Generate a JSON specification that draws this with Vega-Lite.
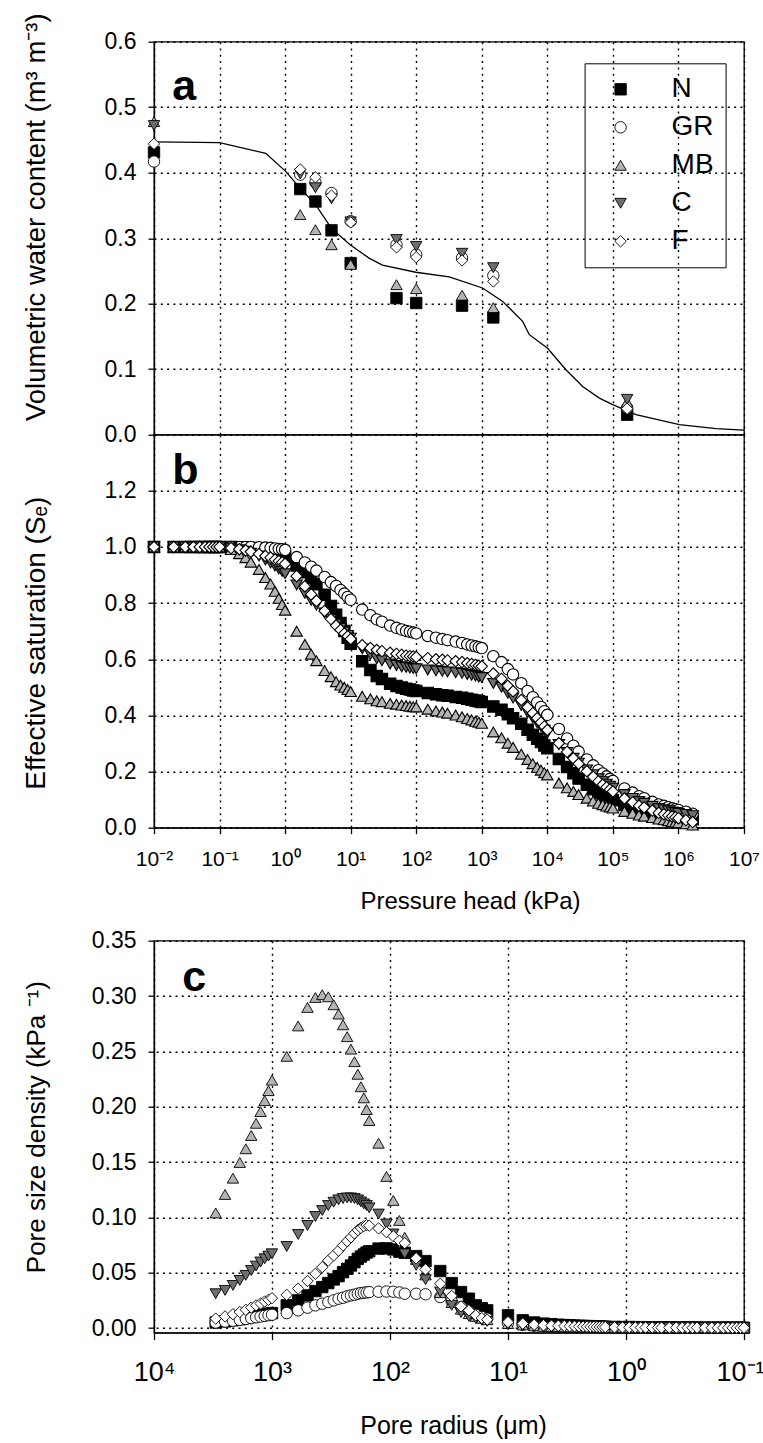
{
  "$schema": "https://vega.github.io/schema/vega-lite/v6.json",
  "padding": {"left": 21, "top": 11.7, "right": 5, "bottom": 5},
  "config": {
    "font": "Liberation Sans",
    "view": {"stroke": "#000", "strokeWidth": 1.3},
    "axis": {
      "domainColor": "#000", "domainWidth": 1.3,
      "tickColor": "#000", "tickWidth": 1.3, "tickSize": 6,
      "labelColor": "#000", "labelFont": "Liberation Sans", "labelFontSize": 23, "labelPadding": 12,
      "labelFlush": false, "labelOverlap": false,
      "titleColor": "#000", "titleFont": "Liberation Sans", "titleFontWeight": "normal",
      "gridColor": "#000", "gridDash": [2, 4.3], "gridWidth": 1.4, "gridOpacity": 1
    }
  },
  "resolve": {"scale": {"shape": "independent", "fill": "independent", "stroke": "independent"}, "legend": {"shape": "independent", "fill": "independent", "stroke": "independent"}},
  "spacing": 14,
  "vconcat": [
    {
      "spacing": 0,
      "bounds": "flush",
      "resolve": {"scale": {"shape": "independent", "fill": "independent", "stroke": "independent"}, "legend": {"shape": "independent", "fill": "independent", "stroke": "independent"}},
      "vconcat": [
        {
          "width": 590, "height": 393,
          "encoding": {
            "x": {"field": "h", "type": "quantitative", "scale": {"type": "log", "domain": [0.01, 10000000], "nice": false},
                  "axis": {"values": [0.01, 0.1, 1, 10, 100, 1000, 10000, 100000, 1000000, 10000000], "labels": false, "ticks": false, "domain": false, "grid": true, "title": null}},
            "y": {"field": "value", "type": "quantitative", "scale": {"domain": [0, 0.6], "nice": false, "zero": false},
                  "axis": {"values": [0, 0.1, 0.2, 0.3, 0.4, 0.5, 0.6], "format": ".1f", "grid": true,
                           "title": "Volumetric water content (m³ m⁻³)", "titleFontSize": 27.5, "titleX": -118, "titleY": 175, "titleBaseline": "middle"}}
          },
          "layer": [
            {
              "data": {"values": [
                {"h": 0.01, "value": 0.447}, {"h": 0.1, "value": 0.446}, {"h": 0.506, "value": 0.4295},
                {"h": 1.02, "value": 0.402}, {"h": 1.69, "value": 0.3765}, {"h": 2.93, "value": 0.351},
                {"h": 5.09, "value": 0.315}, {"h": 9.8, "value": 0.29}, {"h": 19.1, "value": 0.2696},
                {"h": 30.5, "value": 0.259}, {"h": 98.6, "value": 0.248}, {"h": 319, "value": 0.241},
                {"h": 1028, "value": 0.224}, {"h": 2080, "value": 0.2035}, {"h": 4200, "value": 0.173},
                {"h": 5310, "value": 0.1527}, {"h": 10100, "value": 0.132}, {"h": 19200, "value": 0.0992},
                {"h": 34600, "value": 0.0737}, {"h": 62200, "value": 0.0559}, {"h": 99300, "value": 0.0458},
                {"h": 225000, "value": 0.0305}, {"h": 1035000, "value": 0.0153}, {"h": 3750000, "value": 0.0092},
                {"h": 10000000, "value": 0.007}
              ]},
              "mark": {"type": "line", "color": "#000", "strokeWidth": 1.3}
            },
            {
              "data": {"values": [
                {"h": 0.01, "N": 0.431, "GR": 0.417, "MB": 0.478, "C": 0.472, "F": 0.444},
                {"h": 1.7, "N": 0.375, "GR": 0.397, "MB": 0.336, "C": 0.398, "F": 0.405},
                {"h": 2.9, "N": 0.356, "GR": 0.385, "MB": 0.313, "C": 0.377, "F": 0.393},
                {"h": 5.1, "N": 0.312, "GR": 0.369, "MB": 0.29, "C": 0.36, "F": 0.365},
                {"h": 10, "N": 0.262, "GR": 0.326, "MB": 0.26, "C": 0.325, "F": 0.324},
                {"h": 50, "N": 0.2085, "GR": 0.29, "MB": 0.229, "C": 0.298, "F": 0.286},
                {"h": 100, "N": 0.201, "GR": 0.275, "MB": 0.223, "C": 0.2875, "F": 0.271},
                {"h": 500, "N": 0.197, "GR": 0.27, "MB": 0.213, "C": 0.277, "F": 0.266},
                {"h": 1500, "N": 0.179, "GR": 0.243, "MB": 0.194, "C": 0.255, "F": 0.234},
                {"h": 165000, "N": 0.0305, "GR": 0.041, "MB": 0.05, "C": 0.054, "F": 0.0397}
              ]},
              "transform": [
                {"fold": ["N", "GR", "MB", "C", "F"], "as": ["series", "value"]},
                {"lookup": "series", "from": {"data": {"values": [{"series": "N", "ord": 1}, {"series": "GR", "ord": 2}, {"series": "MB", "ord": 3}, {"series": "C", "ord": 4}, {"series": "F", "ord": 5}]}, "key": "series", "fields": ["ord"]}}
              ],
              "mark": {"type": "point", "filled": true, "strokeWidth": 0.9, "size": 130, "opacity": 1},
              "encoding": {
                "shape": {"field": "series", "type": "nominal",
                          "scale": {"domain": ["N", "GR", "MB", "C", "F"], "range": ["square", "circle", "triangle-up", "triangle-down", "diamond"]},
                          "legend": {"orient": "none", "legendX": 430.6, "legendY": 21.6, "title": null, "direction": "vertical", "padding": 12, "rowPadding": 10, "symbolOffset": 10, "labelOffset": 37, "labelFontSize": 28, "labelFont": "Liberation Sans", "labelColor": "#000", "symbolSize": 130, "strokeColor": "#000", "symbolStrokeWidth": 0.9}},
                "fill": {"field": "series", "type": "nominal",
                         "scale": {"domain": ["N", "GR", "MB", "C", "F"], "range": ["#000000", "#ffffff", "#b4b4b4", "#6e6e6e", "#ffffff"]},
                         "legend": {"orient": "none", "legendX": 430.6, "legendY": 21.6, "title": null, "direction": "vertical", "padding": 12, "rowPadding": 10, "symbolOffset": 10, "labelOffset": 37, "labelFontSize": 28, "labelFont": "Liberation Sans", "labelColor": "#000", "symbolSize": 130, "strokeColor": "#000", "symbolStrokeWidth": 0.9}},
                "stroke": {"field": "series", "type": "nominal",
                           "scale": {"domain": ["N", "GR", "MB", "C", "F"], "range": ["#000000", "#000000", "#000000", "#000000", "#000000"]},
                           "legend": {"orient": "none", "legendX": 430.6, "legendY": 21.6, "title": null, "direction": "vertical", "padding": 12, "rowPadding": 10, "symbolOffset": 10, "labelOffset": 37, "labelFontSize": 28, "labelFont": "Liberation Sans", "labelColor": "#000", "symbolSize": 130, "strokeColor": "#000", "symbolStrokeWidth": 0.9}},
                "order": {"field": "ord", "type": "quantitative"}
              }
            },
            {
              "data": {"values": [{"label": "a", "h": 0.019, "value": 0.511}]},
              "mark": {"type": "text", "font": "Liberation Sans", "fontWeight": "bold", "fontSize": 43, "align": "left", "baseline": "alphabetic", "fill": "#000"},
              "encoding": {"text": {"field": "label", "type": "nominal"}}
            }
          ]
        },
        {
          "width": 590, "height": 393,
          "encoding": {
            "x": {"field": "h", "type": "quantitative", "scale": {"type": "log", "domain": [0.01, 10000000], "nice": false},
                  "axis": {"values": [0.01, 0.1, 1, 10, 100, 1000, 10000, 100000, 1000000, 10000000], "grid": true,
                           "labelExpr": "'10' + ['⁻²','⁻¹','⁰','¹','²','³','⁴','⁵','⁶','⁷'][round(log(datum.value)/LN10)+2]",
                           "labelFontSize": 21, "labelPadding": 15,
                           "title": "Pressure head (kPa)", "titleFontSize": 24, "titleX": 316, "titleY": 81, "titleBaseline": "alphabetic"}},
            "y": {"field": "value", "type": "quantitative", "scale": {"domain": [0, 1.4], "nice": false, "zero": false},
                  "axis": {"values": [0, 0.2, 0.4, 0.6, 0.8, 1.0, 1.2], "format": ".1f", "grid": true,
                           "title": "Effective saturation (Sₑ)", "titleFontSize": 28, "titleX": -118, "titleY": 208, "titleBaseline": "middle"}}
          },
          "layer": [
            {
              "data": {"values": [
                {"h": 0.01, "N": 1, "GR": 1, "MB": 1, "C": 1, "F": 1},
                {"h": 0.02, "N": 1, "GR": 1, "MB": 1, "C": 1, "F": 1},
                {"h": 0.03, "N": 1, "GR": 1, "MB": 1, "C": 1, "F": 1},
                {"h": 0.04, "N": 1, "GR": 1, "MB": 1, "C": 1, "F": 1},
                {"h": 0.05, "N": 1, "GR": 1, "MB": 1, "C": 1, "F": 1},
                {"h": 0.06, "N": 1, "GR": 1, "MB": 1, "C": 1, "F": 1},
                {"h": 0.07, "N": 1, "GR": 1, "MB": 1, "C": 1, "F": 1},
                {"h": 0.08, "N": 1, "GR": 1, "MB": 1, "C": 1, "F": 1},
                {"h": 0.09, "N": 1, "GR": 1, "MB": 1, "C": 1, "F": 1},
                {"h": 0.1, "N": 1, "GR": 1, "MB": 1, "C": 1, "F": 1},
                {"h": 0.15, "N": 1, "GR": 1, "MB": 0.991, "C": 0.996, "F": 0.996},
                {"h": 0.2, "N": 0.999, "GR": 1, "MB": 0.976, "C": 0.99, "F": 0.992},
                {"h": 0.25, "N": 0.998, "GR": 1, "MB": 0.962, "C": 0.985, "F": 0.988},
                {"h": 0.3, "N": 0.996, "GR": 1, "MB": 0.946, "C": 0.978, "F": 0.983},
                {"h": 0.4, "N": 0.993, "GR": 0.999, "MB": 0.92, "C": 0.968, "F": 0.975},
                {"h": 0.5, "N": 0.988, "GR": 0.998, "MB": 0.891, "C": 0.954, "F": 0.968},
                {"h": 0.6, "N": 0.984, "GR": 0.997, "MB": 0.868, "C": 0.943, "F": 0.962},
                {"h": 0.7, "N": 0.979, "GR": 0.995, "MB": 0.842, "C": 0.932, "F": 0.955},
                {"h": 0.8, "N": 0.974, "GR": 0.993, "MB": 0.817, "C": 0.922, "F": 0.95},
                {"h": 0.9, "N": 0.969, "GR": 0.992, "MB": 0.795, "C": 0.913, "F": 0.945},
                {"h": 1, "N": 0.965, "GR": 0.99, "MB": 0.775, "C": 0.905, "F": 0.94},
                {"h": 1.5, "N": 0.934, "GR": 0.964, "MB": 0.7, "C": 0.865, "F": 0.896},
                {"h": 2, "N": 0.91, "GR": 0.945, "MB": 0.653, "C": 0.835, "F": 0.86},
                {"h": 2.5, "N": 0.89, "GR": 0.93, "MB": 0.618, "C": 0.81, "F": 0.831},
                {"h": 3, "N": 0.867, "GR": 0.916, "MB": 0.595, "C": 0.793, "F": 0.808},
                {"h": 4, "N": 0.83, "GR": 0.893, "MB": 0.56, "C": 0.765, "F": 0.772},
                {"h": 5, "N": 0.79, "GR": 0.875, "MB": 0.538, "C": 0.743, "F": 0.743},
                {"h": 6, "N": 0.759, "GR": 0.861, "MB": 0.52, "C": 0.725, "F": 0.72},
                {"h": 7, "N": 0.729, "GR": 0.847, "MB": 0.508, "C": 0.71, "F": 0.705},
                {"h": 8, "N": 0.701, "GR": 0.834, "MB": 0.5, "C": 0.697, "F": 0.692},
                {"h": 9, "N": 0.677, "GR": 0.822, "MB": 0.492, "C": 0.685, "F": 0.682},
                {"h": 10, "N": 0.655, "GR": 0.812, "MB": 0.485, "C": 0.675, "F": 0.672},
                {"h": 15, "N": 0.593, "GR": 0.777, "MB": 0.468, "C": 0.637, "F": 0.65},
                {"h": 20, "N": 0.562, "GR": 0.757, "MB": 0.459, "C": 0.617, "F": 0.64},
                {"h": 25, "N": 0.54, "GR": 0.742, "MB": 0.452, "C": 0.602, "F": 0.633},
                {"h": 30, "N": 0.53, "GR": 0.734, "MB": 0.449, "C": 0.595, "F": 0.629},
                {"h": 40, "N": 0.513, "GR": 0.72, "MB": 0.443, "C": 0.583, "F": 0.623},
                {"h": 50, "N": 0.505, "GR": 0.712, "MB": 0.44, "C": 0.578, "F": 0.619},
                {"h": 60, "N": 0.499, "GR": 0.706, "MB": 0.437, "C": 0.573, "F": 0.616},
                {"h": 70, "N": 0.495, "GR": 0.701, "MB": 0.435, "C": 0.571, "F": 0.613},
                {"h": 80, "N": 0.492, "GR": 0.698, "MB": 0.433, "C": 0.569, "F": 0.611},
                {"h": 90, "N": 0.489, "GR": 0.695, "MB": 0.431, "C": 0.567, "F": 0.61},
                {"h": 100, "N": 0.487, "GR": 0.692, "MB": 0.43, "C": 0.566, "F": 0.608},
                {"h": 150, "N": 0.48, "GR": 0.683, "MB": 0.422, "C": 0.562, "F": 0.604},
                {"h": 200, "N": 0.475, "GR": 0.677, "MB": 0.416, "C": 0.559, "F": 0.6},
                {"h": 250, "N": 0.472, "GR": 0.672, "MB": 0.412, "C": 0.557, "F": 0.598},
                {"h": 300, "N": 0.47, "GR": 0.668, "MB": 0.408, "C": 0.555, "F": 0.596},
                {"h": 400, "N": 0.466, "GR": 0.663, "MB": 0.401, "C": 0.552, "F": 0.593},
                {"h": 500, "N": 0.463, "GR": 0.658, "MB": 0.395, "C": 0.55, "F": 0.59},
                {"h": 600, "N": 0.459, "GR": 0.653, "MB": 0.389, "C": 0.546, "F": 0.586},
                {"h": 700, "N": 0.456, "GR": 0.649, "MB": 0.384, "C": 0.543, "F": 0.583},
                {"h": 800, "N": 0.453, "GR": 0.646, "MB": 0.379, "C": 0.54, "F": 0.58},
                {"h": 900, "N": 0.45, "GR": 0.643, "MB": 0.376, "C": 0.537, "F": 0.577},
                {"h": 1000, "N": 0.448, "GR": 0.64, "MB": 0.372, "C": 0.535, "F": 0.575},
                {"h": 1500, "N": 0.432, "GR": 0.611, "MB": 0.341, "C": 0.514, "F": 0.549},
                {"h": 2000, "N": 0.42, "GR": 0.59, "MB": 0.32, "C": 0.5, "F": 0.53},
                {"h": 2500, "N": 0.404, "GR": 0.565, "MB": 0.301, "C": 0.479, "F": 0.505},
                {"h": 3000, "N": 0.39, "GR": 0.546, "MB": 0.286, "C": 0.462, "F": 0.486},
                {"h": 4000, "N": 0.37, "GR": 0.515, "MB": 0.262, "C": 0.435, "F": 0.455},
                {"h": 5000, "N": 0.349, "GR": 0.487, "MB": 0.243, "C": 0.41, "F": 0.429},
                {"h": 6000, "N": 0.331, "GR": 0.465, "MB": 0.228, "C": 0.391, "F": 0.408},
                {"h": 7000, "N": 0.317, "GR": 0.446, "MB": 0.215, "C": 0.374, "F": 0.39},
                {"h": 8000, "N": 0.305, "GR": 0.43, "MB": 0.205, "C": 0.36, "F": 0.375},
                {"h": 9000, "N": 0.293, "GR": 0.415, "MB": 0.196, "C": 0.347, "F": 0.361},
                {"h": 10000, "N": 0.283, "GR": 0.402, "MB": 0.188, "C": 0.337, "F": 0.348},
                {"h": 15000, "N": 0.245, "GR": 0.352, "MB": 0.159, "C": 0.296, "F": 0.301},
                {"h": 20000, "N": 0.216, "GR": 0.318, "MB": 0.142, "C": 0.268, "F": 0.27},
                {"h": 25000, "N": 0.194, "GR": 0.292, "MB": 0.129, "C": 0.247, "F": 0.247},
                {"h": 30000, "N": 0.175, "GR": 0.271, "MB": 0.118, "C": 0.23, "F": 0.228},
                {"h": 40000, "N": 0.153, "GR": 0.243, "MB": 0.105, "C": 0.206, "F": 0.201},
                {"h": 50000, "N": 0.137, "GR": 0.222, "MB": 0.095, "C": 0.189, "F": 0.181},
                {"h": 60000, "N": 0.124, "GR": 0.205, "MB": 0.087, "C": 0.174, "F": 0.165},
                {"h": 70000, "N": 0.115, "GR": 0.193, "MB": 0.082, "C": 0.164, "F": 0.153},
                {"h": 80000, "N": 0.109, "GR": 0.183, "MB": 0.077, "C": 0.155, "F": 0.144},
                {"h": 90000, "N": 0.103, "GR": 0.174, "MB": 0.074, "C": 0.148, "F": 0.136},
                {"h": 100000, "N": 0.098, "GR": 0.167, "MB": 0.07, "C": 0.141, "F": 0.129},
                {"h": 150000, "N": 0.081, "GR": 0.14, "MB": 0.058, "C": 0.118, "F": 0.104},
                {"h": 200000, "N": 0.071, "GR": 0.125, "MB": 0.051, "C": 0.104, "F": 0.09},
                {"h": 250000, "N": 0.063, "GR": 0.112, "MB": 0.045, "C": 0.093, "F": 0.078},
                {"h": 300000, "N": 0.059, "GR": 0.105, "MB": 0.041, "C": 0.087, "F": 0.072},
                {"h": 400000, "N": 0.053, "GR": 0.092, "MB": 0.036, "C": 0.076, "F": 0.061},
                {"h": 500000, "N": 0.048, "GR": 0.083, "MB": 0.031, "C": 0.068, "F": 0.053},
                {"h": 600000, "N": 0.045, "GR": 0.078, "MB": 0.028, "C": 0.064, "F": 0.048},
                {"h": 700000, "N": 0.043, "GR": 0.073, "MB": 0.025, "C": 0.06, "F": 0.044},
                {"h": 800000, "N": 0.041, "GR": 0.069, "MB": 0.022, "C": 0.056, "F": 0.04},
                {"h": 900000, "N": 0.039, "GR": 0.066, "MB": 0.02, "C": 0.054, "F": 0.037},
                {"h": 1000000, "N": 0.037, "GR": 0.063, "MB": 0.018, "C": 0.051, "F": 0.034},
                {"h": 1300000, "N": 0.034, "GR": 0.057, "MB": 0.014, "C": 0.047, "F": 0.027},
                {"h": 1650000, "N": 0.03, "GR": 0.05, "MB": 0.0095, "C": 0.043, "F": 0.02}
              ]},
              "transform": [
                {"fold": ["N", "GR", "MB", "C", "F"], "as": ["series", "value"]},
                {"lookup": "series", "from": {"data": {"values": [{"series": "N", "ord": 1}, {"series": "GR", "ord": 2}, {"series": "MB", "ord": 3}, {"series": "C", "ord": 4}, {"series": "F", "ord": 5}]}, "key": "series", "fields": ["ord"]}}
              ],
              "mark": {"type": "point", "filled": true, "stroke": "#000", "strokeWidth": 1.1, "size": 130, "opacity": 1},
              "encoding": {
                "shape": {"field": "series", "type": "nominal", "legend": null,
                          "scale": {"domain": ["N", "GR", "MB", "C", "F"], "range": ["square", "circle", "triangle-up", "triangle-down", "diamond"]}},
                "fill": {"field": "series", "type": "nominal", "legend": null,
                         "scale": {"domain": ["N", "GR", "MB", "C", "F"], "range": ["#000000", "#ffffff", "#b4b4b4", "#6e6e6e", "#ffffff"]}},
                "order": {"field": "ord", "type": "quantitative"}
              }
            },
            {
              "data": {"values": [{"label": "b", "h": 0.019, "value": 1.224}]},
              "mark": {"type": "text", "font": "Liberation Sans", "fontWeight": "bold", "fontSize": 43, "align": "left", "baseline": "alphabetic", "fill": "#000"},
              "encoding": {"text": {"field": "label", "type": "nominal"}}
            }
          ]
        }
      ]
    },
    {
      "width": 590, "height": 392,
      "encoding": {
        "x": {"field": "r", "type": "quantitative", "scale": {"type": "log", "domain": [0.1, 10000], "reverse": true, "nice": false},
              "axis": {"values": [10000, 1000, 100, 10, 1, 0.1], "grid": true, "tickSize": 7,
                       "labelExpr": "'10' + ['⁻¹','⁰','¹','²','³','⁴'][round(log(datum.value)/LN10)+1]",
                       "labelFontSize": 27, "labelPadding": 20,
                       "labelOffset": {"condition": {"test": "datum.value < 0.5", "value": -4}, "value": 0},
                       "title": "Pore radius (μm)", "titleFontSize": 25, "titleX": 299, "titleY": 101, "titleBaseline": "alphabetic"}},
        "y": {"field": "value", "type": "quantitative", "scale": {"domain": [-0.0042, 0.35], "nice": false, "zero": false},
              "axis": {"values": [0, 0.05, 0.1, 0.15, 0.2, 0.25, 0.3, 0.35], "format": ".2f", "grid": true,
                       "title": "Pore size density (kPa ⁻¹)", "titleFontSize": 26, "titleX": -118, "titleY": 186, "titleBaseline": "middle"}}
      },
      "layer": [
        {
          "data": {"values": [
            {"r": 3000, "N": 0.005, "GR": 0.005, "MB": 0.104, "C": 0.031, "F": 0.0085},
            {"r": 2500, "N": 0.006, "GR": 0.0058, "MB": 0.1207, "C": 0.034, "F": 0.0105},
            {"r": 2143, "N": 0.007, "GR": 0.0066, "MB": 0.1354, "C": 0.0385, "F": 0.0125},
            {"r": 1875, "N": 0.008, "GR": 0.0074, "MB": 0.1496, "C": 0.043, "F": 0.0145},
            {"r": 1667, "N": 0.009, "GR": 0.0082, "MB": 0.162, "C": 0.0476, "F": 0.0165},
            {"r": 1500, "N": 0.01, "GR": 0.009, "MB": 0.174, "C": 0.052, "F": 0.0185},
            {"r": 1364, "N": 0.011, "GR": 0.0097, "MB": 0.185, "C": 0.056, "F": 0.0205},
            {"r": 1250, "N": 0.0115, "GR": 0.0104, "MB": 0.1956, "C": 0.0597, "F": 0.0222},
            {"r": 1154, "N": 0.012, "GR": 0.011, "MB": 0.2055, "C": 0.0626, "F": 0.024},
            {"r": 1071, "N": 0.013, "GR": 0.0116, "MB": 0.2145, "C": 0.065, "F": 0.0255},
            {"r": 1000, "N": 0.0135, "GR": 0.012, "MB": 0.224, "C": 0.0671, "F": 0.027},
            {"r": 750, "N": 0.0205, "GR": 0.0135, "MB": 0.2455, "C": 0.0737, "F": 0.03},
            {"r": 600, "N": 0.025, "GR": 0.016, "MB": 0.273, "C": 0.0846, "F": 0.0356},
            {"r": 500, "N": 0.0295, "GR": 0.0184, "MB": 0.2897, "C": 0.0927, "F": 0.0425},
            {"r": 428.6, "N": 0.0334, "GR": 0.0205, "MB": 0.2987, "C": 0.1008, "F": 0.049},
            {"r": 375, "N": 0.037, "GR": 0.022, "MB": 0.3012, "C": 0.1062, "F": 0.055},
            {"r": 333.3, "N": 0.0406, "GR": 0.0235, "MB": 0.2993, "C": 0.1107, "F": 0.061},
            {"r": 300, "N": 0.0439, "GR": 0.025, "MB": 0.2921, "C": 0.1137, "F": 0.0656},
            {"r": 272.7, "N": 0.0469, "GR": 0.0265, "MB": 0.2837, "C": 0.1158, "F": 0.07},
            {"r": 250, "N": 0.0505, "GR": 0.0274, "MB": 0.274, "C": 0.117, "F": 0.0746},
            {"r": 230.8, "N": 0.0535, "GR": 0.0286, "MB": 0.2633, "C": 0.1176, "F": 0.0785},
            {"r": 214.3, "N": 0.0565, "GR": 0.0295, "MB": 0.252, "C": 0.1176, "F": 0.082},
            {"r": 200, "N": 0.0595, "GR": 0.0301, "MB": 0.2407, "C": 0.117, "F": 0.0855},
            {"r": 187.5, "N": 0.0625, "GR": 0.031, "MB": 0.2293, "C": 0.1158, "F": 0.0885},
            {"r": 176.5, "N": 0.0646, "GR": 0.0316, "MB": 0.218, "C": 0.114, "F": 0.0905},
            {"r": 166.7, "N": 0.0664, "GR": 0.0319, "MB": 0.208, "C": 0.1122, "F": 0.092},
            {"r": 157.9, "N": 0.0682, "GR": 0.0322, "MB": 0.1974, "C": 0.1107, "F": 0.093},
            {"r": 150, "N": 0.0694, "GR": 0.0325, "MB": 0.1875, "C": 0.1086, "F": 0.0925},
            {"r": 125, "N": 0.0718, "GR": 0.0328, "MB": 0.167, "C": 0.103, "F": 0.09},
            {"r": 107.1, "N": 0.072, "GR": 0.033, "MB": 0.137, "C": 0.094, "F": 0.0866},
            {"r": 93.75, "N": 0.071, "GR": 0.0328, "MB": 0.1153, "C": 0.085, "F": 0.083},
            {"r": 83.33, "N": 0.069, "GR": 0.0322, "MB": 0.0972, "C": 0.076, "F": 0.079},
            {"r": 75, "N": 0.068, "GR": 0.031, "MB": 0.082, "C": 0.067, "F": 0.0767},
            {"r": 60, "N": 0.065, "GR": 0.031, "MB": 0.062, "C": 0.0566, "F": 0.063},
            {"r": 50, "N": 0.0605, "GR": 0.0305, "MB": 0.048, "C": 0.0437, "F": 0.053},
            {"r": 37.5, "N": 0.0515, "GR": 0.028, "MB": 0.032, "C": 0.0325, "F": 0.04},
            {"r": 30, "N": 0.0406, "GR": 0.024, "MB": 0.023, "C": 0.0205, "F": 0.029},
            {"r": 25, "N": 0.0325, "GR": 0.019, "MB": 0.017, "C": 0.014, "F": 0.0196},
            {"r": 21.43, "N": 0.0265, "GR": 0.015, "MB": 0.013, "C": 0.0105, "F": 0.016},
            {"r": 18.75, "N": 0.0205, "GR": 0.012, "MB": 0.0105, "C": 0.0085, "F": 0.0115},
            {"r": 16.67, "N": 0.018, "GR": 0.01, "MB": 0.0088, "C": 0.007, "F": 0.009},
            {"r": 15, "N": 0.016, "GR": 0.0085, "MB": 0.0075, "C": 0.006, "F": 0.0076},
            {"r": 10, "N": 0.0115, "GR": 0.0045, "MB": 0.004, "C": 0.003, "F": 0.0054},
            {"r": 7.5, "N": 0.007, "GR": 0.003, "MB": 0.0028, "C": 0.002, "F": 0.004},
            {"r": 6, "N": 0.005, "GR": 0.0022, "MB": 0.002, "C": 0.0015, "F": 0.003},
            {"r": 5, "N": 0.004, "GR": 0.0019, "MB": 0.0016, "C": 0.0012, "F": 0.0025},
            {"r": 4.286, "N": 0.0035, "GR": 0.0017, "MB": 0.0014, "C": 0.001, "F": 0.0022},
            {"r": 3.75, "N": 0.003, "GR": 0.0015, "MB": 0.0012, "C": 0.0009, "F": 0.002},
            {"r": 3.333, "N": 0.0027, "GR": 0.0014, "MB": 0.0011, "C": 0.0008, "F": 0.0018},
            {"r": 3, "N": 0.0025, "GR": 0.0013, "MB": 0.001, "C": 0.0008, "F": 0.0016},
            {"r": 2.727, "N": 0.0022, "GR": 0.0012, "MB": 0.0009, "C": 0.0007, "F": 0.0015},
            {"r": 2.5, "N": 0.002, "GR": 0.0011, "MB": 0.0008, "C": 0.0007, "F": 0.0014},
            {"r": 2.308, "N": 0.0019, "GR": 0.001, "MB": 0.0008, "C": 0.0006, "F": 0.0013},
            {"r": 2.143, "N": 0.0018, "GR": 0.001, "MB": 0.0007, "C": 0.0006, "F": 0.0012},
            {"r": 2, "N": 0.0017, "GR": 0.0009, "MB": 0.0007, "C": 0.0006, "F": 0.0011},
            {"r": 1.875, "N": 0.0016, "GR": 0.0009, "MB": 0.0006, "C": 0.0005, "F": 0.0011},
            {"r": 1.765, "N": 0.0015, "GR": 0.0008, "MB": 0.0006, "C": 0.0005, "F": 0.001},
            {"r": 1.667, "N": 0.0014, "GR": 0.0008, "MB": 0.0006, "C": 0.0005, "F": 0.001},
            {"r": 1.579, "N": 0.0013, "GR": 0.0008, "MB": 0.0005, "C": 0.0005, "F": 0.0009},
            {"r": 1.5, "N": 0.0012, "GR": 0.0007, "MB": 0.0005, "C": 0.0004, "F": 0.0009},
            {"r": 1.25, "N": 0.001, "GR": 0.0007, "MB": 0.0007, "C": 0.0007, "F": 0.0007},
            {"r": 1.071, "N": 0.0009, "GR": 0.0006, "MB": 0.0006, "C": 0.0006, "F": 0.0006},
            {"r": 0.9375, "N": 0.0009, "GR": 0.0006, "MB": 0.0006, "C": 0.0006, "F": 0.0006},
            {"r": 0.8333, "N": 0.0008, "GR": 0.0006, "MB": 0.0006, "C": 0.0006, "F": 0.0006},
            {"r": 0.75, "N": 0.0008, "GR": 0.0005, "MB": 0.0005, "C": 0.0005, "F": 0.0005},
            {"r": 0.6818, "N": 0.0007, "GR": 0.0005, "MB": 0.0005, "C": 0.0005, "F": 0.0005},
            {"r": 0.6, "N": 0.0007, "GR": 0.0005, "MB": 0.0005, "C": 0.0005, "F": 0.0005},
            {"r": 0.5357, "N": 0.0007, "GR": 0.0004, "MB": 0.0004, "C": 0.0004, "F": 0.0004},
            {"r": 0.5, "N": 0.0006, "GR": 0.0004, "MB": 0.0004, "C": 0.0004, "F": 0.0004},
            {"r": 0.4286, "N": 0.0006, "GR": 0.0004, "MB": 0.0004, "C": 0.0004, "F": 0.0004},
            {"r": 0.375, "N": 0.0006, "GR": 0.0004, "MB": 0.0004, "C": 0.0004, "F": 0.0004},
            {"r": 0.3333, "N": 0.0005, "GR": 0.0003, "MB": 0.0003, "C": 0.0003, "F": 0.0003},
            {"r": 0.3, "N": 0.0005, "GR": 0.0003, "MB": 0.0003, "C": 0.0003, "F": 0.0003},
            {"r": 0.2727, "N": 0.0005, "GR": 0.0003, "MB": 0.0003, "C": 0.0003, "F": 0.0003},
            {"r": 0.25, "N": 0.0005, "GR": 0.0003, "MB": 0.0003, "C": 0.0003, "F": 0.0003},
            {"r": 0.2143, "N": 0.0004, "GR": 0.0003, "MB": 0.0003, "C": 0.0003, "F": 0.0003},
            {"r": 0.1875, "N": 0.0004, "GR": 0.0003, "MB": 0.0003, "C": 0.0003, "F": 0.0003},
            {"r": 0.1667, "N": 0.0004, "GR": 0.0002, "MB": 0.0002, "C": 0.0002, "F": 0.0002},
            {"r": 0.15, "N": 0.0004, "GR": 0.0002, "MB": 0.0002, "C": 0.0002, "F": 0.0002},
            {"r": 0.1364, "N": 0.0004, "GR": 0.0002, "MB": 0.0002, "C": 0.0002, "F": 0.0002},
            {"r": 0.125, "N": 0.0003, "GR": 0.0002, "MB": 0.0002, "C": 0.0002, "F": 0.0002},
            {"r": 0.1154, "N": 0.0003, "GR": 0.0002, "MB": 0.0002, "C": 0.0002, "F": 0.0002},
            {"r": 0.1071, "N": 0.0003, "GR": 0.0002, "MB": 0.0002, "C": 0.0002, "F": 0.0002},
            {"r": 0.1, "N": 0.0003, "GR": 0.0002, "MB": 0.0002, "C": 0.0002, "F": 0.0002}
          ]},
          "transform": [
            {"fold": ["N", "GR", "MB", "C", "F"], "as": ["series", "value"]},
            {"lookup": "series", "from": {"data": {"values": [{"series": "N", "ord": 1}, {"series": "GR", "ord": 2}, {"series": "MB", "ord": 3}, {"series": "C", "ord": 4}, {"series": "F", "ord": 5}]}, "key": "series", "fields": ["ord"]}}
          ],
          "mark": {"type": "point", "filled": true, "stroke": "#000", "strokeWidth": 0.9, "size": 130, "opacity": 1},
          "encoding": {
            "shape": {"field": "series", "type": "nominal", "legend": null,
                      "scale": {"domain": ["N", "GR", "MB", "C", "F"], "range": ["square", "circle", "triangle-up", "triangle-down", "diamond"]}},
            "fill": {"field": "series", "type": "nominal", "legend": null,
                     "scale": {"domain": ["N", "GR", "MB", "C", "F"], "range": ["#000000", "#ffffff", "#b4b4b4", "#6e6e6e", "#ffffff"]}},
            "order": {"field": "ord", "type": "quantitative"}
          }
        },
        {
          "data": {"values": [{"label": "c", "r": 5770, "value": 0.3048}]},
          "mark": {"type": "text", "font": "Liberation Sans", "fontWeight": "bold", "fontSize": 43, "align": "left", "baseline": "alphabetic", "fill": "#000"},
          "encoding": {"text": {"field": "label", "type": "nominal"}}
        }
      ]
    }
  ]
}
